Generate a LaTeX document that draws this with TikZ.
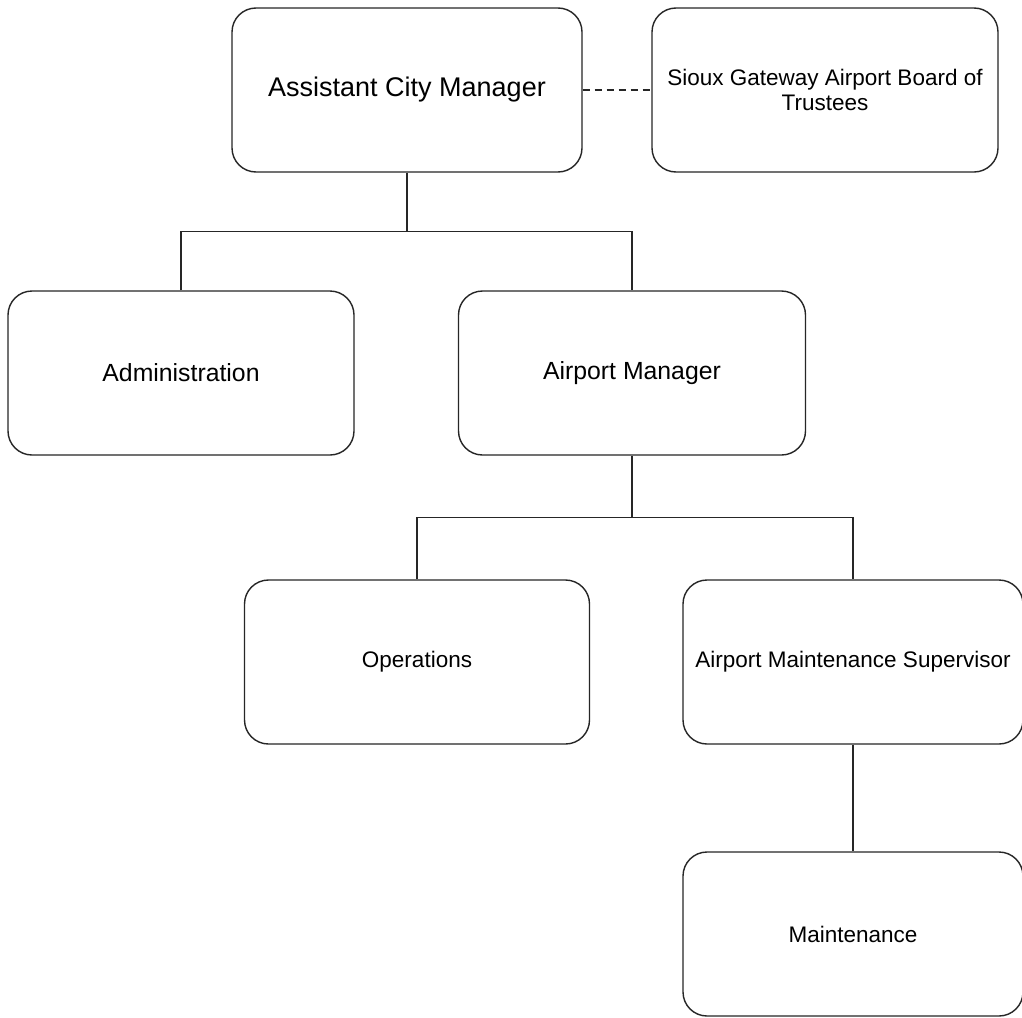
\documentclass[tikz,border=0pt]{standalone}
\usepackage{fontspec}
\setmainfont{Liberation Sans}
\usetikzlibrary{calc}
\tikzstyle{unit}=[draw=black!85, fill=white, rounded corners=24pt, line width=1.4pt, minimum height=164pt, inner sep=0pt, align=center, font=\fontsize{22.5}{25}\selectfont]
\tikzstyle{link}=[draw=black!85, line width=1.4pt]

\begin{document}
\begin{tikzpicture}[x=1pt, y=-1pt]
    \useasboundingbox (0, 0) rectangle (1022, 1017);

    \node[unit, minimum width=350pt, font=\fontsize{27}{32}\selectfont] (acm) at (407, 90) {Assistant City Manager};
    \node[unit, minimum width=346pt] (board) at (825, 90) {Sioux Gateway Airport Board of\\Trustees};

    \node[unit, minimum width=346pt, font=\fontsize{24.8}{28}\selectfont] (admin) at (181, 373) {Administration};
    \node[unit, minimum width=347pt, font=\fontsize{24.8}{28}\selectfont] (apm) at (632, 373) {Airport Manager};

    \node[unit, minimum width=345pt] (ops) at (417, 662) {Operations};
    \node[unit, minimum width=340pt] (sup) at (853, 662) {Airport Maintenance Supervisor};
    \node[unit, minimum width=340pt] (maint) at (853, 934) {Maintenance};

    \draw[link, dash pattern=on 7pt off 5pt] (acm.east) -- (board.west);

    \coordinate (fork1) at ($(acm.south)!0.5!(acm.south |- admin.north)$);
    \draw[link] (acm.south) -- (fork1);
    \draw[link] (admin.north) |- (fork1) -| (apm.north);

    \coordinate (fork2) at ($(apm.south)!0.5!(apm.south |- ops.north)$);
    \draw[link] (apm.south) -- (fork2);
    \draw[link] (ops.north) |- (fork2) -| (sup.north);

    \draw[link] (sup.south) -- (maint.north);
\end{tikzpicture}
\end{document}
